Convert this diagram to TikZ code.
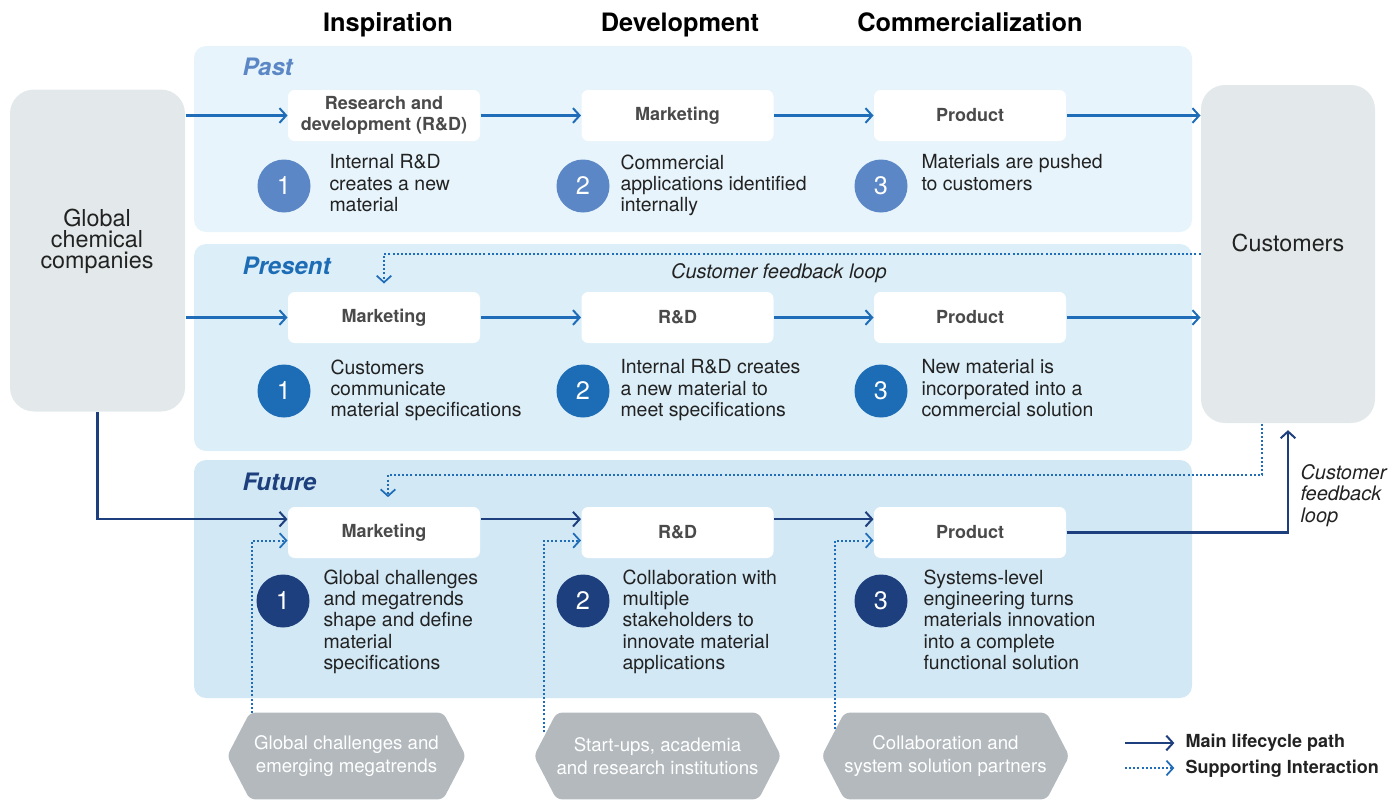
\documentclass[tikz,border=0pt]{standalone}
\usepackage{fontspec}
\setmainfont{TeX Gyre Heros}
\usetikzlibrary{arrows.meta,shapes.symbols,calc}

\definecolor{pastblue}{HTML}{5B87C6}
\definecolor{presblue}{HTML}{1C6DB5}
\definecolor{futblue}{HTML}{1D3F7D}
\definecolor{linkblue}{HTML}{1F6DB8}
\definecolor{pastfill}{HTML}{E7F4FB}
\definecolor{presfill}{HTML}{DCEEF8}
\definecolor{futfill}{HTML}{D2E8F5}
\definecolor{sidegray}{HTML}{E3E9EA}
\definecolor{hexgray}{HTML}{B3B9BD}
\definecolor{labelgray}{HTML}{4A4A4A}
\definecolor{textdark}{HTML}{222222}

\tikzset{every picture/.style={line width=0.75pt},
  mainpath/.style={draw=linkblue, line width=1.7pt, -{Straight Barb[length=5pt,width=11pt,line width=1.5pt]}},
  futpath/.style={mainpath, draw=futblue},
  supportpath/.style={draw=linkblue, line width=1.5pt, dash pattern=on 1.5pt off 1.6pt, -{Straight Barb[length=5pt,width=11pt,line width=1.3pt]}},
  stepbox/.style={fill=white, rounded corners=5pt, minimum width=144pt, minimum height=38.25pt, inner sep=0pt, align=center, text=labelgray, font=\fontsize{13.5}{15.75}\selectfont\bfseries},
  numdot/.style={circle, minimum size=39.75pt, inner sep=0pt, text=white, font=\fontsize{19}{19}\selectfont},
  desc/.style={anchor=north west, inner sep=0pt, align=left, text=textdark, font=\fontsize{14.6}{16.1}\selectfont},
  header/.style={anchor=base, inner sep=0pt, text=black, font=\fontsize{19}{22}\selectfont\bfseries},
  era/.style={anchor=west, inner sep=0pt, font=\fontsize{18}{20}\selectfont\bfseries\itshape},
  sidebox/.style={fill=sidegray, rounded corners=18pt, inner sep=0pt},
  sidetext/.style={inner sep=0pt, align=center, text=textdark, font=\fontsize{17.5}{15.75}\selectfont},
  hexbox/.style={shape=signal, signal to=west and east, signal pointer angle=125, fill=hexgray, rounded corners=4pt, minimum width=179pt, minimum height=65pt, inner sep=0pt, align=center, text=white, font=\fontsize{14}{17}\selectfont},
  loopnote/.style={inner sep=0pt, text=textdark, font=\fontsize{15}{16}\selectfont\itshape}
}

\begin{document}
\begin{tikzpicture}[x=0.75pt,y=0.75pt,yscale=-1,xscale=1]
    \useasboundingbox (0,0) rectangle (1400,800);

    %Shape: Rounded Rect [panels]
    \fill[pastfill, rounded corners=9pt] (194,46) rectangle (1192,232);
    \fill[presfill, rounded corners=9pt] (194,244) rectangle (1192,451);
    \fill[futfill, rounded corners=9pt] (194,460) rectangle (1192,698);

    % Text Node
    \node[header] (hinsp) at (388,31) {Inspiration};
    \node[header] (hdev) at (680,31) {Development};
    \node[header] (hcomm) at (970,31) {Commercialization};

    % Text Node
    \node[era, text=pastblue] (epast) at (242,67) {Past};
    \node[era, text=presblue] (epres) at (242,266) {Present};
    \node[era, text=futblue] (efut) at (242,482) {Future};

    %Shape: Rounded Rect [side boxes]
    \node[sidebox, minimum width=131.25pt, minimum height=241.5pt] (glob) at (97.5,250.5) {};
    \node[sidetext] (globtxt) at (97,241) {Global\\chemical\\companies};
    \node[sidebox, minimum width=130.5pt, minimum height=253.5pt] (cust) at (1288,254) {};
    \node[sidetext] (custtxt) at (1288,243) {Customers};

    %Shape: Hexagon
    \node[hexbox] (hex1) at (346.5,756) {Global challenges and\\emerging megatrends};
    \node[hexbox] (hex2) at (657.5,756) {Start-ups, academia\\and research institutions};
    \node[hexbox] (hex3) at (945.5,756) {Collaboration and\\system solution partners};

    %Shape: Rounded Rect [past]
    \node[stepbox] (past1) at (384,115.5) {Research and\\development (R\&D)};
    \node[stepbox] (past2) at (677.5,115.5) {Marketing};
    \node[stepbox] (past3) at (970,115.5) {Product};
    %Shape: Circle
    \node[numdot, fill=pastblue] (pastnum1) at (284,186) {1};
    \node[numdot, fill=pastblue] (pastnum2) at (583,186) {2};
    \node[numdot, fill=pastblue] (pastnum3) at (881,186) {3};
    % Text Node
    \node[desc] (pastdesc1) at (329,154) {Internal R\&D\\creates a new\\material};
    \node[desc] (pastdesc2) at (620,154) {Commercial\\applications identified\\internally};
    \node[desc] (pastdesc3) at (921,154) {Materials are pushed\\to customers};

    %Shape: Rounded Rect [present]
    \node[stepbox] (pres1) at (384,317.5) {Marketing};
    \node[stepbox] (pres2) at (677.5,317.5) {R\&D};
    \node[stepbox] (pres3) at (970,317.5) {Product};
    %Shape: Circle
    \node[numdot, fill=presblue] (presnum1) at (284,391) {1};
    \node[numdot, fill=presblue] (presnum2) at (583,391) {2};
    \node[numdot, fill=presblue] (presnum3) at (881,391) {3};
    % Text Node
    \node[desc] (presdesc1) at (330,359) {Customers\\communicate\\material specifications};
    \node[desc] (presdesc2) at (620,359) {Internal R\&D creates\\a new material to\\meet specifications};
    \node[desc] (presdesc3) at (921,359) {New material is\\incorporated into a\\commercial solution};
    \node[loopnote] (fbnote) at (779,273) {Customer feedback loop};

    %Shape: Rounded Rect [future]
    \node[stepbox] (fut1) at (384,532.5) {Marketing};
    \node[stepbox] (fut2) at (677.5,532.5) {R\&D};
    \node[stepbox] (fut3) at (970,532.5) {Product};
    %Shape: Circle
    \node[numdot, fill=futblue] (futnum1) at (283,601) {1};
    \node[numdot, fill=futblue] (futnum2) at (583,601) {2};
    \node[numdot, fill=futblue] (futnum3) at (881,601) {3};
    % Text Node
    \node[desc] (futdesc1) at (323,569) {Global challenges\\and megatrends\\shape and define\\material\\specifications};
    \node[desc] (futdesc2) at (622,569) {Collaboration with\\multiple\\stakeholders to\\innovate material\\applications};
    \node[desc] (futdesc3) at (923,569) {Systems-level\\engineering turns\\materials innovation\\into a complete\\functional solution};
    \node[loopnote, anchor=north west, align=left] (fbnote2) at (1300,464) {Customer\\feedback\\loop};

    %Straight Lines [past]
    \draw[mainpath] (glob.east |- past1) -- (past1.west);
    \draw[mainpath] (past1.east) -- (past2.west);
    \draw[mainpath] (past2.east) -- (past3.west);
    \draw[mainpath] (past3.east) -- (cust.west |- past3);

    %Straight Lines [present]
    \draw[mainpath] (glob.east |- pres1) -- (pres1.west);
    \draw[mainpath] (pres1.east) -- (pres2.west);
    \draw[mainpath] (pres2.east) -- (pres3.west);
    \draw[mainpath] (pres3.east) -- (cust.west |- pres3);

    %Straight Lines [future]
    \draw[futpath] (glob.south) |- ([yshift=-10pt]fut1.west);
    \draw[futpath] ([yshift=-10pt]fut1.east) -- ([yshift=-10pt]fut2.west);
    \draw[futpath] ([yshift=-10pt]fut2.east) -- ([yshift=-10pt]fut3.west);
    \draw[futpath] (fut3.east) -| ([yshift=5pt]cust.south);

    %Dotted Lines [feedback]
    \coordinate (fbA) at (1200,254);
    \coordinate (fbB) at (1262,475);
    \draw[supportpath] (cust.west |- fbA) -| ([yshift=-6pt]pres1.north);
    \draw[supportpath] (cust.south -| fbB) -- (fbB) -| ([xshift=3pt,yshift=-7pt]fut1.north);

    %Dotted Lines [support]
    \draw[supportpath] ($(hex1.west)+(25,-43)$) |- ([yshift=6pt]fut1.west);
    \draw[supportpath] ($(hex2.west)+(11,-24)$) |- ([yshift=6pt]fut2.west);
    \draw[supportpath] ($(hex3.west)+(14,-27)$) |- ([yshift=6pt]fut3.west);

    % Legend
    \coordinate (lgA) at (1125,743);
    \coordinate (lgB) at (1125,768);
    \node[anchor=west, inner sep=0pt, text=textdark, font=\fontsize{13.5}{15}\selectfont\bfseries] (lgAtxt) at (1185,743) {Main lifecycle path};
    \node[anchor=west, inner sep=0pt, text=textdark, font=\fontsize{13.5}{15}\selectfont\bfseries] (lgBtxt) at (1185,769) {Supporting Interaction};
    \draw[futpath] (lgA) -- ([xshift=-8pt]lgAtxt.west);
    \draw[supportpath] (lgB) -- ([xshift=-8pt]lgBtxt.west |- lgB);

\end{tikzpicture}
\end{document}
